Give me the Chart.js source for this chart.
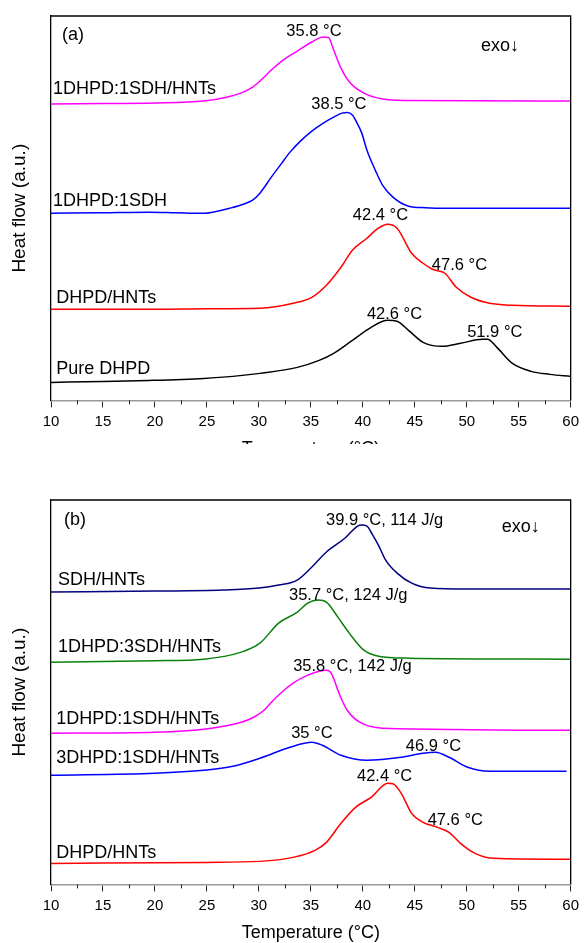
<!DOCTYPE html>
<html>
<head>
<meta charset="UTF-8">
<title>DSC curves</title>
<script src="https://cdn.jsdelivr.net/npm/chart.js"></script>
<style>
  body { margin: 0; background: #fff; overflow: hidden; }
  .panel { position: absolute; left: 0; width: 584px; }
  #wrapA { top: 0; height: 444px; overflow: hidden; }
  #wrapB { top: 484px; height: 460px; }
</style>
</head>
<body>
<div class="panel" id="wrapA"><canvas id="chartA" width="584" height="460"></canvas></div>
<div class="panel" id="wrapB"><canvas id="chartB" width="584" height="460"></canvas></div>
<script>
// x ticks (°C)
const tempTicks = [10, 15, 20, 25, 30, 35, 40, 45, 50, 55, 60];

// ---- panel (a) ----
// 1DHPD:1SDH/HNTs
const aMixHntT = [10, 15, 20, 24.7, 27, 28.5, 29.4, 30.1, 31.2, 32.2, 33.7, 35.1, 36.2, 36.7, 37.2, 37.9, 38.8, 40.1, 41.9, 44, 60];
const aMixHntY = [296, 296.5, 297, 299, 303, 308, 313, 319, 330, 339, 349, 358, 363, 362.5, 350, 332, 317, 307, 301, 299.5, 299];
// 1DHPD:1SDH
const aMixT = [10, 15, 19.4, 22, 24.7, 26, 27.2, 28.5, 29.4, 30.1, 31.2, 32.2, 33, 34, 35.1, 36.2, 37.2, 38, 38.5, 39, 39.4, 39.9, 40.4, 41.2, 41.9, 42.9, 44.4, 46, 48, 60];
const aMixY = [187, 187.5, 188, 187.5, 187, 189, 192, 196, 200, 207, 223, 237, 248, 259, 269, 277, 283, 287, 287.5, 285, 278, 267, 250, 230, 215, 203, 194, 192.5, 192, 192];
// DHPD/HNTs
const aHntT = [10, 20, 25, 30.1, 33.3, 35.1, 36.5, 37.9, 39, 40.4, 41.5, 42.4, 43.3, 44.7, 45.8, 46.7, 47.9, 49, 50.4, 52.2, 54.4, 60];
const aHntY = [91, 91, 91.5, 92, 97, 103, 115, 133, 150, 162, 172, 176, 172, 147, 137, 131, 127, 113, 103, 97, 95, 94];
// Pure DHPD
const aPureT = [10, 15, 19.4, 24.7, 27.5, 30.1, 33.7, 35.8, 37.2, 39, 40.8, 42.4, 43.3, 44.4, 45.8, 47.6, 49.4, 51.5, 52, 52.9, 54.4, 56.2, 58, 60];
const aPureY = [18, 19, 20, 22, 24, 27, 33, 40, 47, 60, 73, 80, 79, 70, 58, 54, 57, 61, 61, 53, 37, 29, 26, 24];

// ---- panel (b) ----
// SDH/HNTs
const bSdhT = [10, 20, 26.5, 30, 31.9, 33.7, 35.1, 36.5, 38.3, 39.5, 39.9, 40.4, 40.9, 41.5, 42.2, 43.3, 44.7, 46.5, 50, 60];
const bSdhY = [292, 293, 294, 296, 299, 304, 317, 332, 346, 358, 359, 358, 350, 339, 324, 311, 301, 296, 295, 295];
// 1DHPD:3SDH/HNTs
const b13T = [10, 20, 24.7, 28.3, 30.1, 31.9, 33.7, 34.7, 35.7, 36.5, 37.6, 38.7, 40.1, 41.5, 44.4, 60];
const b13Y = [222, 223.5, 225, 232, 241, 261, 272, 281, 284, 282, 267, 251, 234, 228, 226, 225];
// 1DHPD:1SDH/HNTs
const b11T = [10, 20, 24.7, 28.3, 29.5, 30.5, 31.3, 32.2, 33.3, 34.7, 35.8, 36.5, 36.9, 37.3, 37.6, 38, 38.5, 39.7, 41.9, 60];
const b11Y = [151, 152, 155, 162, 167, 174, 183, 192, 201, 209, 213, 214, 212, 203, 194, 184, 174, 162, 156, 154];
// 3DHPD:1SDH/HNTs
const b31T = [10, 20, 24.7, 27.5, 30.1, 33, 35.1, 36.1, 37.9, 40.4, 43.7, 45.8, 47, 48.3, 50.1, 52.2, 59.6];
const b31Y = [109, 111, 114, 118, 126, 137, 142, 139, 129, 124, 127, 131, 132, 127, 117, 113, 113];
// DHPD/HNTs
const bHntT = [10, 25, 30.1, 33.3, 35.4, 36.5, 37.9, 39.3, 40.8, 42.4, 42.9, 43.7, 44.7, 45.8, 47.2, 48.3, 49.4, 50.8, 52.6, 60];
const bHntY = [21, 22, 23, 27, 34, 42, 61, 77, 87, 101, 100.5, 91, 71, 62, 57, 52, 41, 31, 26, 25];

// text notes: [text, °C, a.u., font px, align]
const aNotes = [
  ['(a)', 11.05, 365, 18, 'left'],
  ['exo\u2193', 53.2, 354, 18, 'center'],
  ['35.8 \u00B0C', 35.3, 369, 16.5, 'center'],
  ['1DHPD:1SDH/HNTs', 10.2, 311, 18, 'left'],
  ['38.5 \u00B0C', 37.7, 296, 16.5, 'center'],
  ['1DHPD:1SDH', 10.2, 199, 18, 'left'],
  ['42.4 \u00B0C', 41.7, 185, 16.5, 'center'],
  ['47.6 \u00B0C', 49.3, 135, 16.5, 'center'],
  ['DHPD/HNTs', 10.5, 102, 18, 'left'],
  ['42.6 \u00B0C', 43.05, 86, 16.5, 'center'],
  ['51.9 \u00B0C', 52.7, 68, 16.5, 'center'],
  ['Pure DHPD', 10.5, 31, 18, 'left']
];
const bNotes = [
  ['(b)', 11.25, 364, 18, 'left'],
  ['exo\u2193', 55.2, 357, 18, 'center'],
  ['39.9 \u00B0C, 114 J/g', 42.1, 364, 16.5, 'center'],
  ['SDH/HNTs', 10.67, 304, 18, 'left'],
  ['35.7 \u00B0C, 124 J/g', 38.6, 289, 16.5, 'center'],
  ['1DHPD:3SDH/HNTs', 10.67, 237, 18, 'left'],
  ['35.8 \u00B0C, 142 J/g', 39.0, 218, 16.5, 'center'],
  ['1DHPD:1SDH/HNTs', 10.5, 165, 18, 'left'],
  ['35 \u00B0C', 35.1, 151, 16.5, 'center'],
  ['46.9 \u00B0C', 46.8, 138, 16.5, 'center'],
  ['3DHPD:1SDH/HNTs', 10.5, 126, 18, 'left'],
  ['42.4 \u00B0C', 42.1, 108, 16.5, 'center'],
  ['47.6 \u00B0C', 48.9, 64, 16.5, 'center'],
  ['DHPD/HNTs', 10.5, 31, 18, 'left']
];

Chart.defaults.font.family = '"Liberation Sans", Arial, sans-serif';
Chart.defaults.color = '#000';

function curve(T, Y, color) {
  return {
    data: T.map((t, i) => ({ x: t, y: Y[i] })),
    borderColor: color,
    borderWidth: 1.5,
    pointRadius: 0,
    fill: false,
    cubicInterpolationMode: 'monotone'
  };
}

// frame, minor ticks and text notes
const extras = {
  id: 'extras',
  afterDraw(chart, args, opts) {
    const { ctx, chartArea: a, scales: { x, y } } = chart;
    ctx.save();
    ctx.strokeStyle = '#000';
    ctx.lineWidth = 1.3;
    ctx.beginPath();
    ctx.moveTo(a.left, a.top);
    ctx.lineTo(a.right, a.top);
    ctx.lineTo(a.right, a.bottom);
    ctx.stroke();

    ctx.strokeStyle = '#222';
    ctx.lineWidth = 1;
    for (let i = 0; i < tempTicks.length - 1; i++) {
      const px = Math.round(x.getPixelForValue((tempTicks[i] + tempTicks[i + 1]) / 2)) + 0.5;
      ctx.beginPath();
      ctx.moveTo(px, a.bottom);
      ctx.lineTo(px, a.bottom + 4);
      ctx.stroke();
    }

    ctx.fillStyle = '#000';
    ctx.textBaseline = 'middle';
    opts.notes.forEach(n => {
      ctx.font = n[3] + 'px "Liberation Sans", Arial, sans-serif';
      ctx.textAlign = n[4];
      ctx.fillText(n[0], x.getPixelForValue(n[1]), y.getPixelForValue(n[2]));
    });
    ctx.restore();
  }
};

function makeChart(id, datasets, notes) {
  return new Chart(document.getElementById(id), {
    type: 'line',
    data: { datasets: datasets },
    plugins: [extras],
    options: {
      responsive: false,
      animation: false,
      layout: { padding: { top: 16, right: 11, left: 0, bottom: 0 } },
      plugins: { legend: { display: false }, tooltip: { enabled: false }, extras: { notes: notes } },
      scales: {
        x: {
          type: 'linear', min: 10, max: 60,
          afterBuildTicks: s => { s.ticks = tempTicks.map(v => ({ value: v })); },
          ticks: { color: '#000', font: { size: 15 }, padding: 5, maxRotation: 0 },
          grid: { drawOnChartArea: false, drawTicks: true, tickLength: 7, tickColor: '#222', tickWidth: 1 },
          border: { color: '#999', width: 1.5 },
          title: { display: true, text: 'Temperature (\u00B0C)', color: '#000', font: { size: 18 }, padding: { top: 3, bottom: 0 } }
        },
        y: {
          type: 'linear', min: 0, max: 384,
          ticks: { display: false },
          grid: { display: false, drawTicks: false },
          border: { color: '#000', width: 1.3 },
          title: { display: true, text: 'Heat flow (a.u.)', color: '#000', font: { size: 19 }, padding: { top: 8.6, bottom: 19.6 } }
        }
      }
    }
  });
}

makeChart('chartA', [
  curve(aMixHntT, aMixHntY, '#ff00ff'),
  curve(aMixT, aMixY, '#0000ff'),
  curve(aHntT, aHntY, '#ff0000'),
  curve(aPureT, aPureY, '#000000')
], aNotes);

makeChart('chartB', [
  curve(bSdhT, bSdhY, '#000080'),
  curve(b13T, b13Y, '#0a800a'),
  curve(b11T, b11Y, '#ff00ff'),
  curve(b31T, b31Y, '#0000ff'),
  curve(bHntT, bHntY, '#ff0000')
], bNotes);
</script>
</body>
</html>
